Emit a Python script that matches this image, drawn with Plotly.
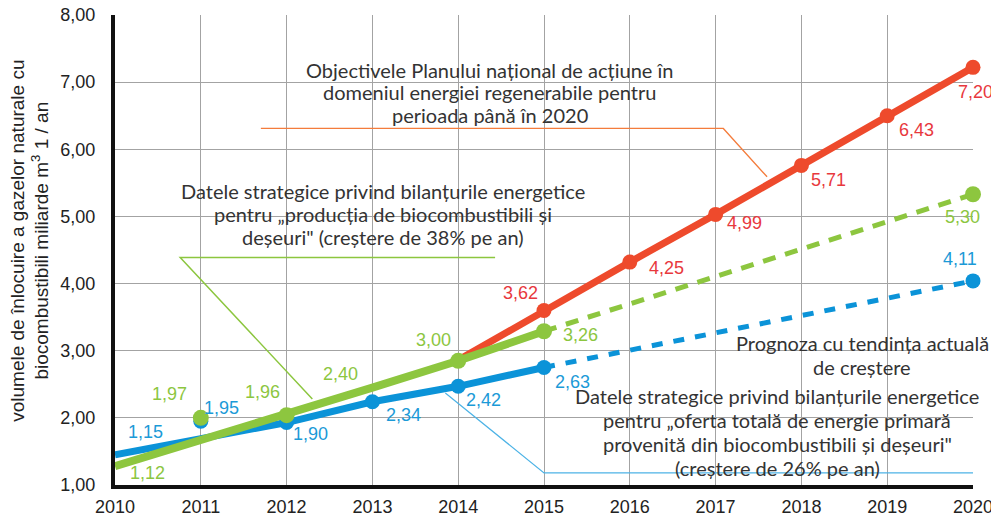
import plotly.graph_objects as go

# ---------------- data ----------------
years = [2010, 2011, 2012, 2013, 2014, 2015, 2016, 2017, 2018, 2019, 2020]
y_tick_vals = [1, 2, 3, 4, 5, 6, 7, 8]
y_tick_text = ["1,00", "2,00", "3,00", "4,00", "5,00", "6,00", "7,00", "8,00"]

# blue: strategic data, total primary energy supply (26% growth)
blue_x = [2010, 2012, 2013, 2014, 2015]
blue_y = [1.45, 1.93, 2.24, 2.47, 2.75]
blue_fc_x = [2015, 2020]
blue_fc_y = [2.75, 4.04]
blue_mk_x = [2011, 2012, 2013, 2014, 2015, 2020]
blue_mk_y = [1.95, 1.93, 2.24, 2.47, 2.75, 4.04]
blue_lbl_x = [2010, 2011, 2012, 2013, 2014, 2015, 2020]
blue_lbl_y = [1.45, 1.95, 1.93, 2.24, 2.47, 2.75, 4.04]
blue_labels = ["1,15", "1,95", "1,90", "2,34", "2,42", "2,63", "4,11"]

# green: strategic data, production of biofuels (38% growth)
green_x = [2010, 2012, 2013, 2014, 2015]
green_y = [1.28, 2.04, 2.45, 2.85, 3.29]
green_fc_x = [2015, 2020]
green_fc_y = [3.29, 5.33]
green_mk_x = [2011, 2012, 2014, 2015, 2020]
green_mk_y = [2.00, 2.04, 2.85, 3.29, 5.33]
green_lbl_x = [2010, 2011, 2012, 2013, 2014, 2015, 2020]
green_lbl_y = [1.28, 2.00, 2.04, 2.45, 2.85, 3.29, 5.33]
green_labels = ["1,12", "1,97", "1,96", "2,40", "3,00", "3,26", "5,30"]

# red: national action plan objectives
red_x = [2014, 2015, 2016, 2017, 2018, 2019, 2020]
red_y = [2.86, 3.60, 4.32, 5.03, 5.76, 6.50, 7.22]
red_mk_x = [2015, 2016, 2017, 2018, 2019, 2020]
red_mk_y = [3.60, 4.32, 5.03, 5.76, 6.50, 7.22]
red_lbl_x = [2015, 2016, 2017, 2018, 2019, 2020]
red_lbl_y = [3.60, 4.32, 5.03, 5.76, 6.50, 7.22]
red_labels = ["3,62", "4,25", "4,99", "5,71", "6,43", "7,20"]

# text blocks (lines)
block_red = ["Objectivele Planului național de acțiune în",
             "domeniul energiei regenerabile pentru",
             "perioada până în 2020"]
block_green = ["Datele strategice privind bilanțurile energetice",
               "pentru „producția de biocombustibili și",
               "deșeuri\" (creștere de 38% pe an)"]
block_trend = ["Prognoza cu tendința actuală",
               "de creștere"]
block_blue = ["Datele strategice privind bilanțurile energetice",
              "pentru „oferta totală de energie primară",
              "provenită din biocombustibili și deșeuri\"",
              "(creștere de 26% pe an)"]
y_title = "volumele de înlocuire a gazelor naturale cu<br>biocombustibili miliarde m<sup>3</sup> 1 / an"

# ---------------- styles ----------------
BLUE, GREEN, RED = "#0b93d8", "#8dc63f", "#ee4a2c"
BLUE_T, GREEN_T, RED_T = "#1b9ad7", "#8cc63f", "#e8383d"
NUM_FONT = "Liberation Sans, Arial, sans-serif"
TXT_FONT = "Lato, Open Sans, sans-serif"

blue_shift = [(30, 23), (21, 13), (24, -11), (31, -13), (25, -14), (28, -14), (-13, 22)]
green_shift = [(32, -7), (-31, 24), (-24, 23), (-32, 14), (-25, 21), (36, -4), (-11, -23)]
red_shift = [(-24, 17), (37, -6), (29, -9), (27, -15), (29, -14), (2, -25)]

fig = go.Figure()

# blue series
fig.add_trace(go.Scatter(x=blue_x, y=blue_y, mode="lines",
                         line=dict(color=BLUE, width=7), cliponaxis=False, showlegend=False))
fig.add_trace(go.Scatter(x=blue_fc_x, y=blue_fc_y, mode="lines",
                         line=dict(color=BLUE, width=5, dash="11px,11px"), cliponaxis=False, showlegend=False))
fig.add_trace(go.Scatter(x=blue_mk_x, y=blue_mk_y, mode="markers",
                         marker=dict(color=BLUE, size=15), cliponaxis=False, showlegend=False))
# red series
fig.add_trace(go.Scatter(x=red_x, y=red_y, mode="lines",
                         line=dict(color=RED, width=7), cliponaxis=False, showlegend=False))
fig.add_trace(go.Scatter(x=red_mk_x, y=red_mk_y, mode="markers",
                         marker=dict(color=RED, size=15), cliponaxis=False, showlegend=False))
# green series
fig.add_trace(go.Scatter(x=green_x, y=green_y, mode="lines",
                         line=dict(color=GREEN, width=8), cliponaxis=False, showlegend=False))
fig.add_trace(go.Scatter(x=green_fc_x, y=green_fc_y, mode="lines",
                         line=dict(color=GREEN, width=5, dash="13px,10px"), cliponaxis=False, showlegend=False))
fig.add_trace(go.Scatter(x=green_mk_x, y=green_mk_y, mode="markers",
                         marker=dict(color=GREEN, size=16), cliponaxis=False, showlegend=False))

annotations = []


def add_labels(xs, ys, texts, shifts, color):
    for x, y, t, (dx, dy) in zip(xs, ys, texts, shifts):
        annotations.append(dict(x=x, y=y, text=t, showarrow=False, xshift=dx, yshift=dy,
                                xanchor="center", yanchor="middle",
                                font=dict(family=NUM_FONT, size=18, color=color)))


add_labels(blue_lbl_x, blue_lbl_y, blue_labels, blue_shift, BLUE_T)
add_labels(green_lbl_x, green_lbl_y, green_labels, green_shift, GREEN_T)
add_labels(red_lbl_x, red_lbl_y, red_labels, red_shift, RED_T)


def add_block(cx, cy, lines, spacing):
    n = len(lines)
    for i, ln in enumerate(lines):
        annotations.append(dict(x=cx, y=cy, text=ln, showarrow=False,
                                xanchor="center", yanchor="middle",
                                yshift=-(i - (n - 1) / 2) * spacing,
                                font=dict(family=TXT_FONT, size=20, color="#333333")))


add_block(2014.37, 6.85, block_red, 22.5)
add_block(2013.12, 5.03, block_green, 23)
add_block(2018.71, 2.94, block_trend, 24)
add_block(2017.72, 1.79, block_blue, 23.8)

# y-axis title
annotations.append(dict(xref="paper", yref="paper", x=-0.1, y=0.52,
                        text=y_title, textangle=-90, showarrow=False,
                        xanchor="center", yanchor="middle",
                        font=dict(family=NUM_FONT, size=19, color="#222222")))

# leader lines
shapes = [
    dict(type="path", path="M 2011.70,6.31 L 2017.09,6.31 L 2017.60,5.59",
         line=dict(color="#f47c3c", width=1.3)),
    dict(type="path", path="M 2014.43,4.39 L 2010.76,4.39 L 2012.30,2.28",
         line=dict(color="#8cc63f", width=1.5)),
    dict(type="path", path="M 2013.85,2.37 L 2015.0,1.18 L 2020.0,1.18",
         line=dict(color="#4db3e6", width=1.2)),
]
for s in shapes:
    s.update(xref="x", yref="y", layer="above")

# page body has an 8px margin: the figure is sized/placed to compensate
fig.update_layout(
    width=991, height=510,
    margin=dict(l=107, r=26, t=7, b=33, autoexpand=False),
    paper_bgcolor="white", plot_bgcolor="white",
    annotations=annotations, shapes=shapes,
    xaxis=dict(range=[2010, 2020], tickvals=years, ticktext=[str(y) for y in years],
               showgrid=True, gridcolor="#a3a3a3", gridwidth=1,
               showline=True, linecolor="#111111", linewidth=4,
               ticks="", ticklabelstandoff=2, zeroline=False, automargin=False,
               ticklabeloverflow="allow",
               tickfont=dict(family=NUM_FONT, size=18, color="#222222")),
    yaxis=dict(range=[1, 8], tickvals=y_tick_vals, ticktext=y_tick_text,
               showgrid=True, gridcolor="#a3a3a3", gridwidth=1,
               showline=True, linecolor="#111111", linewidth=4,
               ticks="", ticklabelstandoff=12, zeroline=False, automargin=False,
               ticklabeloverflow="allow",
               tickfont=dict(family=NUM_FONT, size=18, color="#222222")),
)

fig.write_html("out.html")
